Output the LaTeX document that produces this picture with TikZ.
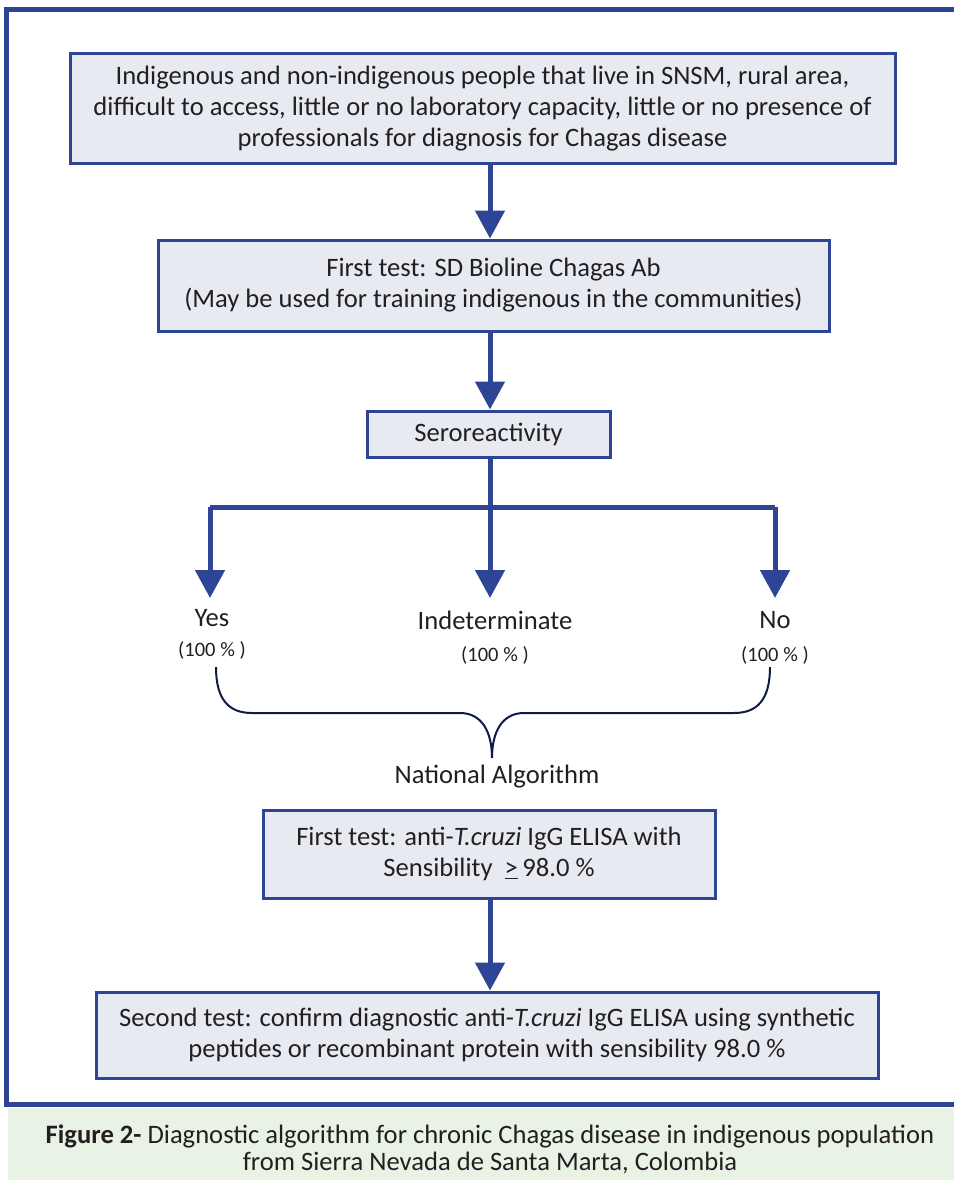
\documentclass[tikz,border=0pt]{standalone}
\usepackage{fontspec}
\setmainfont{Carlito}
\usetikzlibrary{arrows.meta}
\definecolor{framecol}{HTML}{2E4494}
\definecolor{boxfill}{HTML}{E8EAF2}
\definecolor{bracecol}{HTML}{101A48}
\definecolor{capfill}{HTML}{E8F3E6}
\definecolor{txt}{HTML}{231F20}
\tikzset{
  flowbox/.style={draw=framecol, line width=3pt, fill=boxfill, align=center, inner sep=0pt,
    font=\fontsize{26.6}{31}\selectfont, text=txt},
  arr/.style={draw=framecol, line width=5pt, -{Triangle[width=29pt,length=28pt]}},
  bar/.style={draw=framecol, line width=5pt},
  lab/.style={font=\fontsize{26.6}{30}\selectfont, text=txt, inner sep=0pt},
  pct/.style={font=\fontsize{20.5}{24}\selectfont, text=txt, inner sep=0pt},
}
\begin{document}
\begin{tikzpicture}[x=1pt,y=-1pt]
\useasboundingbox (0,0) rectangle (954,1180);
% caption band
\fill[capfill] (8,1108) rectangle (954,1180);
% frame
\draw[line width=5pt, framecol] (954,9.5) -- (6.5,9.5) -- (6.5,1104.5) -- (954,1104.5);
\coordinate (spine) at (490,0);
% boxes
\node[flowbox, minimum width=825pt, minimum height=109pt] (b1) at (482.5,108.5)
  {Indigenous and non-indigenous people that live in SNSM, rural area,\\
   difficult to access, little or no laboratory capacity, little or no presence of\\
   professionals for diagnosis for Chagas disease};
\node[flowbox, minimum width=671pt, minimum height=91pt] (b2) at (493.5,285.5)
  {First test: SD Bioline Chagas Ab\\(May be used for training indigenous in the communities)};
\node[flowbox, minimum width=243pt, minimum height=46pt] (b3) at (488.5,434)
  {Seroreactivity};
\node[flowbox, minimum width=452pt, minimum height=88pt] (b4) at (489,854)
  {First test: anti-\textit{T.cruzi} IgG ELISA with\\Sensibility \ \underline{>}\,98.0 \%};
\node[flowbox, minimum width=782pt, minimum height=86pt] (b5) at (487,1035)
  {Second test: confirm diagnostic anti-\textit{T.cruzi} IgG ELISA using synthetic\\
   peptides or recombinant protein with sensibility 98.0 \%};
% arrows
\draw[arr] (b1.south -| spine) -- (b2.north -| spine);
\draw[arr] (b2.south -| spine) -- (b3.north -| spine);
\draw[arr] (b4.south -| spine) -- (b5.north -| spine);
% branch
\coordinate (jn) at (490,507);
\coordinate (jl) at (210,507);
\coordinate (jr) at (775,507);
\coordinate (tl) at (210,598);
\coordinate (tm) at (490,598);
\coordinate (tr) at (775,598);
\draw[bar] (b3.south -| spine) -- (jn);
\draw[bar] (jl) -- (jr);
\draw[arr] (jl) -- (tl);
\draw[arr] (jn) -- (tm);
\draw[arr] (jr) -- (tr);
% labels
\node[lab] (yes) at (212,618) {Yes};
\node[pct] (yesp) at (212,650) {(100 \% )};
\node[lab] (ind) at (495,620) {Indeterminate};
\node[pct] (indp) at (495,655) {(100 \% )};
\node[lab] (no) at (775,620) {No};
\node[pct] (nop) at (775,655) {(100 \% )};
% brace
\coordinate (bl) at (216,667);
\coordinate (br) at (770,667);
\coordinate (bc) at (492,758);
\draw[bracecol, line width=2pt] (bl) .. controls (216,700) and (229,713) .. (252,713)
  -- (460,713) .. controls (482,713) and (492,732) .. (bc)
  .. controls (492,732) and (502,713) .. (524,713)
  -- (734,713) .. controls (757,713) and (770,700) .. (br);
\node[lab] (nat) at (497,777) {National Algorithm};
% caption
\node[font=\fontsize{26.6}{27}\selectfont, text=txt, align=center, inner sep=0pt] (cap) at (490,1149)
  {\textbf{Figure 2-} Diagnostic algorithm for chronic Chagas disease in indigenous population\\
   from Sierra Nevada de Santa Marta, Colombia};
\end{tikzpicture}
\end{document}
